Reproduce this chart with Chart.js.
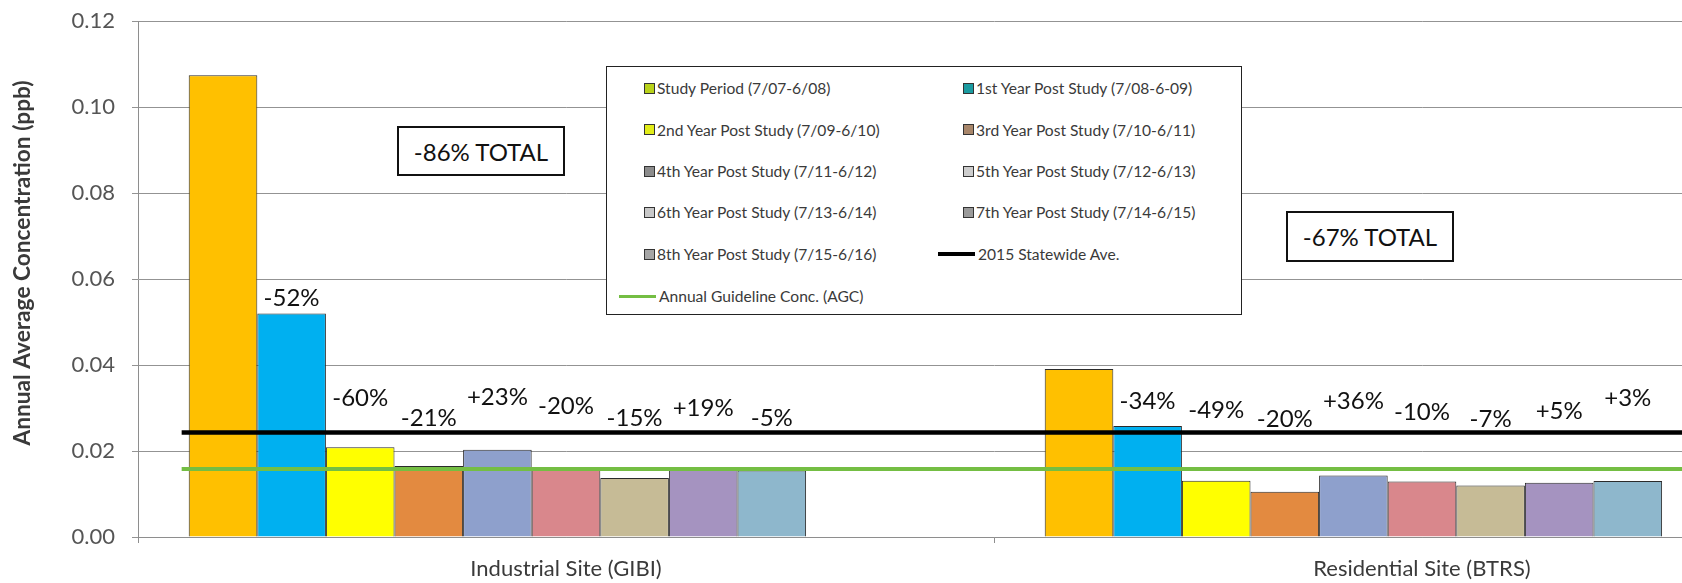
<!DOCTYPE html>
<html>
<head>
<meta charset="utf-8">
<title>Annual Average Concentration by Site</title>
<script src="https://cdn.jsdelivr.net/npm/chart.js@4.4.1/dist/chart.umd.min.js"></script>
<style>
  html, body { margin: 0; padding: 0; background: #fff; overflow: hidden; width: 1682px; height: 583px; }
  #wrap { position: relative; width: 1682px; height: 583px; overflow: hidden; font-family: Lato, "Open Sans", sans-serif; }
  #c { position: absolute; left: 0; top: -9px; }
  .total { position: absolute; box-sizing: border-box; border: 2px solid #111; background: #fff;
           font: 24px Lato, sans-serif; color: #111; display: flex; align-items: center; justify-content: center; }
  #legend { position: absolute; left: 606px; top: 66px; width: 636px; height: 249px; box-sizing: border-box;
            border: 1.5px solid #222; background: #fff; }
  .item { position: absolute; height: 20px; display: flex; align-items: center; font: 15.6px Lato, sans-serif; color: #3a3a3a; white-space: nowrap; }
  .swatch { width: 9px; height: 9px; border: 1px solid #333; margin-right: 2px; flex: none; }
  .stroke { flex: none; margin-right: 3px; }
</style>
</head>
<body>
<div id="wrap">
  <canvas id="c" width="1860" height="592" style="width:1860px;height:592px"></canvas>
  <div id="legend"></div>
</div>
<script>
// Sites on the category axis
const categories = ['Industrial Site (GIBI)', 'Residential Site (BTRS)'];

// One series per monitoring year
const seriesNames = [
  'Study Period (7/07-6/08)',
  '1st Year Post Study (7/08-6-09)',
  '2nd Year Post Study (7/09-6/10)',
  '3rd Year Post Study (7/10-6/11)',
  '4th Year Post Study (7/11-6/12)',
  '5th Year Post Study (7/12-6/13)',
  '6th Year Post Study (7/13-6/14)',
  '7th Year Post Study (7/14-6/15)',
  '8th Year Post Study (7/15-6/16)'
];

// Annual average concentration (ppb), one value per year
const industrial  = [0.1074, 0.0520, 0.0209, 0.0165, 0.0203, 0.0162, 0.0137, 0.0163, 0.0155];
const residential = [0.0391, 0.0258, 0.0131, 0.0105, 0.0143, 0.0129, 0.0120, 0.0126, 0.0130];

// Year-over-year change labels
const industrialChange  = ['', '-52%', '-60%', '-21%', '+23%', '-20%', '-15%', '+19%', '-5%'];
const residentialChange = ['', '-34%', '-49%', '-20%', '+36%', '-10%', '-7%', '+5%', '+3%'];
const totalChange = ['-86% TOTAL', '-67% TOTAL'];

// Reference levels (ppb)
const statewideName = '2015 Statewide Ave.';
const statewideAvg = 0.0243;
const agcName = 'Annual Guideline Conc. (AGC)';
const agcValue = 0.0158;

// y axis ticks
const yMin = 0, yMax = 0.12, yStep = 0.02;

// ---- styling ----
const barColors = ['#FFC000', '#00B0F0', '#FFFF00', '#E38A40', '#8EA0CC', '#D9878C', '#C6BB96', '#A593C0', '#8EB7CC'];
const legendColors = ['#B9D21A', '#1A9BA0', '#E2EC18', '#A8866A', '#8C8C8C', '#CDCDCD', '#C8C8C8', '#9A9A9A', '#A5A5A5'];
// heights (in ppb units) where the change labels sit, per site
const changeLabelY = [
  [null, 0.0555, 0.0322, 0.0276, 0.0324, 0.0305, 0.0277, 0.0300, 0.0276],
  [null, 0.0315, 0.0295, 0.0273, 0.0315, 0.0291, 0.0275, 0.0293, 0.0322]
];
// horizontal reach of the reference lines, in category-index units
// (-0.5 is the left edge of the plot, 1.5 the right edge)
const lineSpan = [-0.449, 1.5];

const datasets = seriesNames.map((name, i) => ({
  type: 'bar',
  label: name,
  data: [industrial[i], residential[i]],
  backgroundColor: barColors[i],
  borderColor: '#2b2b2b',
  borderWidth: 1,
  order: 2
}));
// two empty slots after the last year keep the cluster spacing of the original layout
for (let k = 0; k < 2; k++) {
  datasets.push({ type: 'bar', label: '', data: [0, 0], backgroundColor: 'rgba(0,0,0,0)', borderWidth: 0, order: 2 });
}
datasets.push({
  type: 'line', label: statewideName, parsing: false,
  data: lineSpan.map(x => ({ x, y: statewideAvg })),
  borderColor: '#000', borderWidth: 4.5, pointRadius: 0, order: 0
});
datasets.push({
  type: 'line', label: agcName, parsing: false,
  data: lineSpan.map(x => ({ x, y: agcValue })),
  borderColor: '#74BE43', borderWidth: 4, pointRadius: 0, order: 1
});

const changeLabels = {
  id: 'changeLabels',
  afterDatasetsDraw(chart) {
    const ctx = chart.ctx;
    const y = chart.scales.y;
    const changes = [industrialChange, residentialChange];
    ctx.save();
    ctx.font = '24px Lato, sans-serif';
    ctx.fillStyle = '#111';
    ctx.textAlign = 'center';
    ctx.textBaseline = 'middle';
    for (let i = 1; i < seriesNames.length; i++) {
      const meta = chart.getDatasetMeta(i);
      for (let j = 0; j < categories.length; j++) {
        const bar = meta.data[j];
        ctx.fillText(changes[j][i], bar.x, y.getPixelForValue(changeLabelY[j][i]));
      }
    }
    // rotated value-axis title
    ctx.translate(23, 272);
    ctx.rotate(-Math.PI / 2);
    ctx.font = 'bold 22.7px Lato, sans-serif';
    ctx.fillStyle = '#3a3a3a';
    ctx.fillText('Annual Average Concentration (ppb)', 0, 0);
    ctx.restore();
  }
};

new Chart(document.getElementById('c'), {
  data: { labels: categories, datasets },
  options: {
    responsive: false,
    animation: false,
    events: [],
    layout: { padding: { top: 12, right: 10, bottom: 0, left: 0 } },
    datasets: { bar: { barPercentage: 1, categoryPercentage: 0.8815 } },
    plugins: { legend: { display: false }, tooltip: { enabled: false } },
    scales: {
      x: {
        type: 'category',
        min: categories[0], max: categories[1],
        offset: true,
        grid: { display: true, drawOnChartArea: false, drawTicks: true, tickLength: 6, color: '#8E8E8E', offset: true },
        border: { display: true, color: '#8E8E8E', width: 1 },
        ticks: { color: '#3a3a3a', font: { family: 'Lato', size: 22 }, padding: 13, maxRotation: 0 },
        afterFit: s => { s.height = 46; }
      },
      y: {
        min: yMin, max: yMax,
        grid: { color: '#939393', lineWidth: 1, tickLength: 6 },
        border: { display: true, color: '#8E8E8E', width: 1 },
        ticks: { stepSize: yStep, color: '#555', font: { family: 'Lato', size: 22 }, padding: 17,
                 callback: v => v.toFixed(2) },
        afterFit: s => { s.width = 138; }
      }
    }
  },
  plugins: [changeLabels]
});

// Total change boxes
const totalBoxes = [[397, 126, 168, 50], [1286, 211, 168, 51]];
totalChange.forEach((t, i) => {
  const d = document.createElement('div');
  d.className = 'total';
  const [l, tp, w, h] = totalBoxes[i];
  Object.assign(d.style, { left: l + 'px', top: tp + 'px', width: w + 'px', height: h + 'px' });
  d.textContent = t;
  document.getElementById('wrap').appendChild(d);
});

// Two-column legend
const legend = document.getElementById('legend');
const rowCenters = [21, 62.5, 104, 145, 187, 229];
const colSwatchX = [37, 356];
const entries = seriesNames.map((n, i) => ({ name: n, kind: 'box', color: legendColors[i] }));
entries.push({ name: statewideName, kind: 'line', color: '#000', width: 37, thick: 4 });
entries.push({ name: agcName, kind: 'line', color: '#74BE43', width: 37, thick: 3 });
entries.forEach((e, i) => {
  const row = Math.floor(i / 2), col = i % 2;
  const it = document.createElement('div');
  it.className = 'item';
  it.style.top = (rowCenters[row] - 10) + 'px';
  let left = colSwatchX[col];
  const mark = document.createElement('span');
  if (e.kind === 'box') {
    mark.className = 'swatch';
    mark.style.background = e.color;
  } else {
    mark.className = 'stroke';
    mark.style.width = e.width + 'px';
    mark.style.height = e.thick + 'px';
    mark.style.background = e.color;
    left -= 25;
  }
  it.style.left = left + 'px';
  it.appendChild(mark);
  const tx = document.createElement('span');
  tx.textContent = e.name;
  it.appendChild(tx);
  legend.appendChild(it);
});
</script>
</body>
</html>
